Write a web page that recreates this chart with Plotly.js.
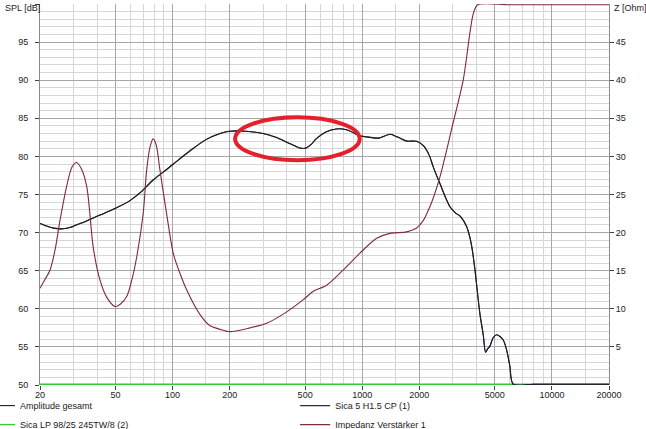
<!DOCTYPE html>
<html>
<head>
<meta charset="utf-8">
<script src="https://cdn.plot.ly/plotly-3.0.1.min.js"></script>
<style>
html,body{margin:0;padding:0;background:#ffffff;}
#chart{width:646px;height:429px;}
</style>
</head>
<body>
<div id="chart"></div>
<script>
// Amplitude gesamt (SPL, dB) - also Sica 5 H1.5 CP (1), same curve
var splFreq = [20,22,24,26.5,29,31,35,41.4,50,59.6,68,78.9,90,101,124.6,150,178,200,244,300,350,398,440,468,506,540,571,643,730,826,900,968,1100,1224,1403,1548,1720,1935,2100,2250,2370,2570,2900,3100,3300,3550,3700,3800,3930,4170,4350,4470,4600,4710,4900,5110,5300,5540,5770,6000,6250,8000,12000,20000];
var splVal  = [71.2,70.8,70.55,70.5,70.7,71.0,71.5,72.3,73.2,74.2,75.3,76.9,78.0,79.0,80.8,82.2,83.0,83.3,83.3,83.0,82.5,81.9,81.4,81.1,81.1,81.6,82.3,83.2,83.6,83.5,83.1,82.7,82.5,82.4,82.9,82.5,82.0,82.0,81.4,80.2,78.6,76.4,73.4,72.6,72.1,70.8,69.3,67.8,65.1,59.4,56.5,54.3,54.8,55.1,56.2,56.6,56.4,55.9,54.6,52.5,50.1,50.1,50.1,50.1];

// Sica LP 98/25 245TW/8 (2) - below range, drawn at the bottom edge
var lpFreq = [20,200,2000,20000];
var lpVal  = [50.1,50.1,50.1,50.1];

// Impedanz Verstärker 1 (Ohm)
var zFreq = [20,21.2,22.6,24,25.5,27.6,29.5,31.2,33,35.3,38.2,41.4,45,49.7,53,57.3,61,64.7,70,73,76,78.9,82,85.8,93,101,110,118.6,139,157,178,200,256,313,400,489,552,649,794,972,1192,1400,1714,1936,2100,2274,2382,2569,2786,2960,3406,3848,4060,6000,10000,20000];
var zVal  = [12.7,13.8,15.1,17.7,21.6,26.0,28.6,29.2,28.4,26.0,18.0,13.8,11.5,10.3,10.6,11.6,13.8,16.8,22.5,28.2,31.2,32.3,31.5,28.2,22.5,17.2,14.5,12.5,9.3,7.8,7.3,7.0,7.5,8.1,9.6,11.2,12.3,13.1,15.1,17.3,19.25,19.9,20.1,20.6,21.6,23.4,24.7,27.3,30.8,33.6,40.0,48.7,49.9,49.9,49.9,49.9];

var xMajor = [20,50,100,200,500,1000,2000,5000,10000,20000];
var xMajorText = ['20','50','100','200','500','1000','2000','5000','10000','20000'];
var xMinor = [30,40,60,70,80,90,150,300,400,600,700,800,900,1500,3000,4000,6000,7000,8000,9000,15000];
var yTicks = [50,55,60,65,70,75,80,85,90,95,100];
var yTickText = ['50','55','60','65','70','75','80','85','90','95',''];
var zTicks = [5,10,15,20,25,30,35,40,45];

var names = ['Amplitude gesamt','Sica LP 98/25 245TW/8 (2)','Sica 5 H1.5 CP (1)','Impedanz Verstärker 1'];

var traces = [
  {x: lpFreq, y: lpVal, type:'scatter', mode:'lines', name: names[1],
   line:{color:'#33cc33', width:1.3}, legend:'legend', legendrank:2, hoverinfo:'skip'},
  {x: zFreq, y: zVal, type:'scatter', mode:'lines', name: names[3], yaxis:'y2',
   line:{color:'#7e2a3a', width:1.1, shape:'spline', smoothing:0.8}, legend:'legend2', legendrank:2, hoverinfo:'skip'},
  {x: splFreq, y: splVal, type:'scatter', mode:'lines', name: names[2],
   line:{color:'#262660', width:1.1, shape:'spline', smoothing:0.8}, legend:'legend2', legendrank:1, hoverinfo:'skip'},
  {x: splFreq, y: splVal, type:'scatter', mode:'lines', name: names[0],
   line:{color:'#1e1e1e', width:1.1, shape:'spline', smoothing:0.8}, legend:'legend', legendrank:1, hoverinfo:'skip'}
];

var fnt = {family:'Liberation Sans, Arial, sans-serif', size:9, color:'#1a1a1a'};

var layout = {
  width:646, height:429,
  margin:{l:40, r:37, t:4, b:44, autoexpand:false},
  paper_bgcolor:'#ffffff', plot_bgcolor:'#ffffff',
  font: fnt,
  showlegend:true,
  xaxis:{
    type:'log', range:[Math.log10(20), Math.log10(20000)],
    tickmode:'array', tickvals:xMajor, ticktext:xMajorText,
    ticks:'outside', ticklen:4, tickcolor:'#404040', tickfont:fnt, ticklabelstandoff:-3,
    showgrid:true, gridcolor:'#a6a6a6', gridwidth:1,
    minor:{tickmode:'array', tickvals:xMinor, showgrid:true, gridcolor:'#d6d6d6', gridwidth:1, ticks:''},
    showline:false, zeroline:false, fixedrange:true
  },
  yaxis:{
    range:[50,100], tickmode:'array', tickvals:yTicks, ticktext:yTickText,
    ticks:'outside', ticklen:4, tickcolor:'#404040', tickfont:fnt, ticklabelstandoff:5,
    showgrid:true, gridcolor:'#a6a6a6', gridwidth:1,
    minor:{dtick:1, tick0:50, showgrid:true, gridcolor:'#d6d6d6', gridwidth:1, ticks:''},
    showline:true, linecolor:'#8a8a8a', linewidth:1, zeroline:false, fixedrange:true
  },
  yaxis2:{
    overlaying:'y', side:'right', range:[0,50],
    tickmode:'array', tickvals:zTicks,
    ticks:'outside', ticklen:4, tickcolor:'#404040', tickfont:fnt,
    showgrid:false, showline:true, linecolor:'#8a8a8a', linewidth:1, zeroline:false, fixedrange:true
  },
  legend:{orientation:'v', x:-0.1055, xanchor:'left', y:-0.016, yanchor:'top',
    bgcolor:'rgba(0,0,0,0)', font:fnt, traceorder:'normal', tracegroupgap:0},
  legend2:{orientation:'v', x:0.4484, xanchor:'left', y:-0.016, yanchor:'top',
    bgcolor:'rgba(0,0,0,0)', font:fnt, traceorder:'normal', tracegroupgap:0},
  annotations:[
    {text:'SPL [dB]', xref:'paper', yref:'paper', x:-0.0645, y:0.990, xanchor:'left', yanchor:'middle', showarrow:false, font:fnt},
    {text:'Z [Ohm]', xref:'paper', yref:'paper', x:1.0053, y:0.990, xanchor:'left', yanchor:'middle', showarrow:false, font:fnt}
  ],
  shapes:[
    {type:'circle', xref:'paper', yref:'paper', x0:0.3429, x1:0.5618, y0:0.590, y1:0.7027,
     line:{color:'#e5202a', width:4}, fillcolor:'rgba(0,0,0,0)'}
  ]
};

Plotly.newPlot('chart', traces, layout, {staticPlot:true, displayModeBar:false});
</script>
</body>
</html>
